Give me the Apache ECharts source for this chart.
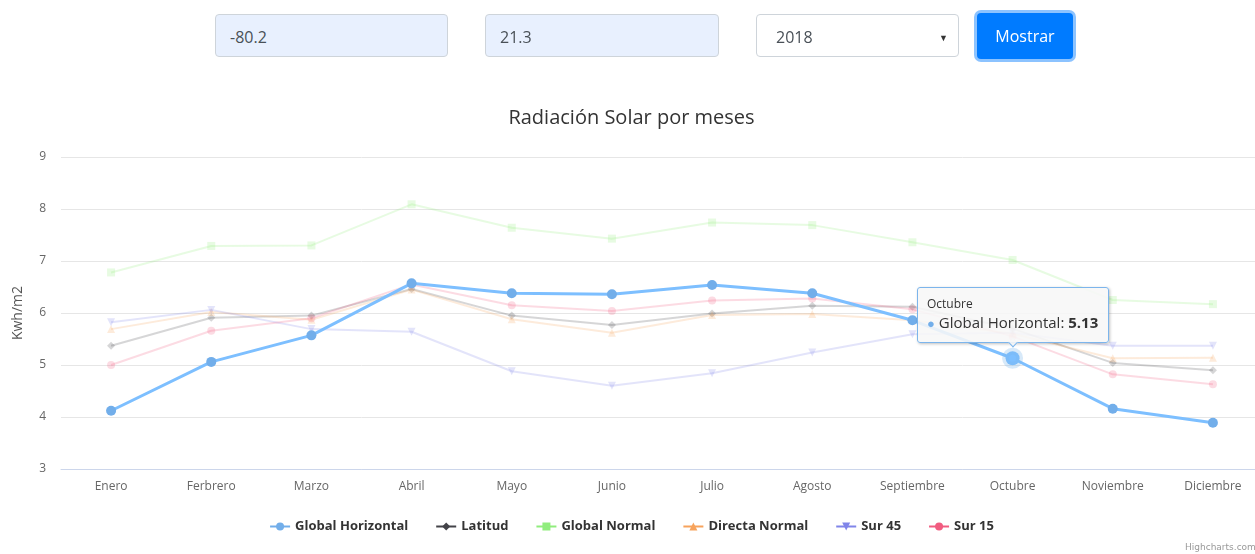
<!DOCTYPE html>
<html>
<head>
<meta charset="utf-8">
<script src="https://cdn.jsdelivr.net/npm/echarts@6/dist/echarts.min.js"></script>
<style>
  html, body { margin: 0; padding: 0; width: 1255px; height: 554px; overflow: hidden; background: #fff; font-family: "Open Sans", "Noto Sans", sans-serif; }
  #chart { position: absolute; left: 0; top: 0; width: 1263px; height: 554px; }
  .fld { position: absolute; top: 14px; height: 43px; box-sizing: border-box; border: 1px solid #ced4da; border-radius: 4px;
         font-size: 16px; color: #495057; line-height: 45px; padding-left: 14px; }
  .auto { background: #e8f0fe; }
  .sel { background: #fff; }
  .sel:after { content: "\25BC"; position: absolute; right: 10px; top: 0; font-size: 9px; color: #333; }
  .btn { position: absolute; left: 977px; top: 13px; width: 96px; height: 46px; box-sizing: border-box; border-radius: 4px;
         background: #007bff; color: #fff; font-size: 16px; line-height: 46px; text-align: center;
         box-shadow: 0 0 0 3px rgba(0,123,255,.45); }
  .credit { position: absolute; left: 1185px; top: 542px; font-size: 9px; color: #999; white-space: nowrap; font-family: "DejaVu Sans", sans-serif; }
</style>
</head>
<body>
<div id="chart"></div>
<div class="fld auto" style="left:215px;width:233px;">-80.2</div>
<div class="fld auto" style="left:485px;width:234px;">21.3</div>
<div class="fld sel" style="left:756px;width:203px;padding-left:19px;">2018</div>
<div class="btn">Mostrar</div>
<div class="credit">Highcharts.com</div>
<script>
// Radiacion solar mensual, 6 series, se resalta Global Horizontal
const meses = ['Enero', 'Ferbrero', 'Marzo', 'Abril', 'Mayo', 'Junio', 'Julio', 'Agosto', 'Septiembre', 'Octubre', 'Noviembre', 'Diciembre'];
const yTicks = [3, 4, 5, 6, 7, 8, 9];

const globalHorizontal = [4.12, 5.06, 5.57, 6.57, 6.38, 6.36, 6.54, 6.38, 5.86, 5.13, 4.16, 3.89];
const latitud = [5.37, 5.91, 5.95, 6.46, 5.95, 5.77, 5.99, 6.14, 6.12, 5.70, 5.04, 4.90];
const globalNormal = [6.78, 7.29, 7.30, 8.09, 7.64, 7.43, 7.74, 7.69, 7.36, 7.02, 6.25, 6.17];
const directaNormal = [5.69, 6.02, 5.87, 6.45, 5.88, 5.62, 5.96, 5.98, 5.86, 5.60, 5.13, 5.14];
const sur45 = [5.82, 6.06, 5.69, 5.64, 4.88, 4.60, 4.84, 5.24, 5.59, 5.62, 5.37, 5.37];
const sur15 = [5.00, 5.66, 5.90, 6.55, 6.15, 6.04, 6.24, 6.28, 6.07, 5.55, 4.82, 4.63];

const chart = echarts.init(document.getElementById('chart'));
const FONT = '"Open Sans", "Noto Sans", sans-serif';
const faded = 0.22;

const mkSerie = (name, data, color, symbol, extra) => Object.assign({
    name: name,
    type: 'line',
    data: data,
    symbol: symbol,
    symbolSize: 8,
    color: color,
    lineStyle: { width: 2, opacity: faded },
    itemStyle: { opacity: faded },
    emphasis: { disabled: true },
    z: 2
}, extra || {});

const series = [
    mkSerie('Global Horizontal', globalHorizontal, '#72aeea', 'circle', {
        symbolSize: 10,
        lineStyle: { width: 3, opacity: 1 },
        itemStyle: { opacity: 1 },
        emphasis: { scale: 1.4, itemStyle: { borderColor: 'rgba(124,181,236,0.3)', borderWidth: 7 } },
        z: 5
    }),
    mkSerie('Latitud', latitud, '#434348', 'diamond'),
    mkSerie('Global Normal', globalNormal, '#90ed7d', 'rect'),
    mkSerie('Directa Normal', directaNormal, '#f7a35c', 'triangle'),
    mkSerie('Sur 45', sur45, '#8085e9', 'triangle', { symbolRotate: 180 }),
    mkSerie('Sur 15', sur15, '#f15c80', 'circle')
];

const option = {
    animation: false,
    textStyle: { fontFamily: FONT },
    title: {
        text: 'Radiación Solar por meses',
        left: 'center',
        top: 103,
        textStyle: { fontSize: 20, fontWeight: 'normal', color: '#333', fontFamily: FONT }
    },
    grid: { left: 61, right: 0, top: 157, bottom: 85 },
    tooltip: {
        trigger: 'item',
        triggerOn: 'none',
        alwaysShowContent: true,
        position: 'top',
        backgroundColor: 'rgba(247,247,247,0.88)',
        borderColor: '#7cb5ec',
        borderWidth: 1,
        padding: [7, 10, 8, 9],
        extraCssText: 'border-radius:3px;box-shadow:1px 1px 3px rgba(0,0,0,0.25);',
        formatter: p => '<div style="font-size:12px;color:#333;line-height:17px;">' + p.name + '</div>' +
            '<div style="font-size:15px;color:#333;line-height:21px;"><span style="color:' + p.color + ';font-size:13px;">\u25CF</span> ' +
            p.seriesName + ': <b>' + p.value.toFixed(2) + '</b></div>'
    },
    legend: {
        top: 515,
        left: 'center',
        itemWidth: 20,
        itemHeight: 10,
        itemGap: 27,
        textStyle: { fontSize: 13, fontWeight: 'bold', color: '#333', fontFamily: FONT },
        data: series.map(s => ({ name: s.name, itemStyle: { opacity: 1 }, lineStyle: { opacity: 1 } }))
    },
    xAxis: {
        type: 'category',
        data: meses,
        boundaryGap: true,
        axisLine: { lineStyle: { color: '#ccd6eb' } },
        axisTick: { show: false },
        axisLabel: { color: '#666', fontSize: 12, margin: 12, interval: 0 }
    },
    yAxis: {
        type: 'value',
        min: yTicks[0],
        max: yTicks[yTicks.length - 1],
        interval: 1,
        name: 'Kwh/m2',
        nameLocation: 'middle',
        nameGap: 36,
        nameTextStyle: { color: '#555', fontSize: 14 },
        axisLabel: { color: '#666', fontSize: 12, margin: 15 },
        splitLine: { lineStyle: { color: '#e6e6e6' } }
    },
    series: series
};

chart.setOption(option);
chart.dispatchAction({ type: 'highlight', seriesIndex: 0, dataIndex: 9 });
chart.dispatchAction({ type: 'showTip', seriesIndex: 0, dataIndex: 9 });

window.onresize = () => {
    chart.resize();
};
</script>
</body>
</html>
